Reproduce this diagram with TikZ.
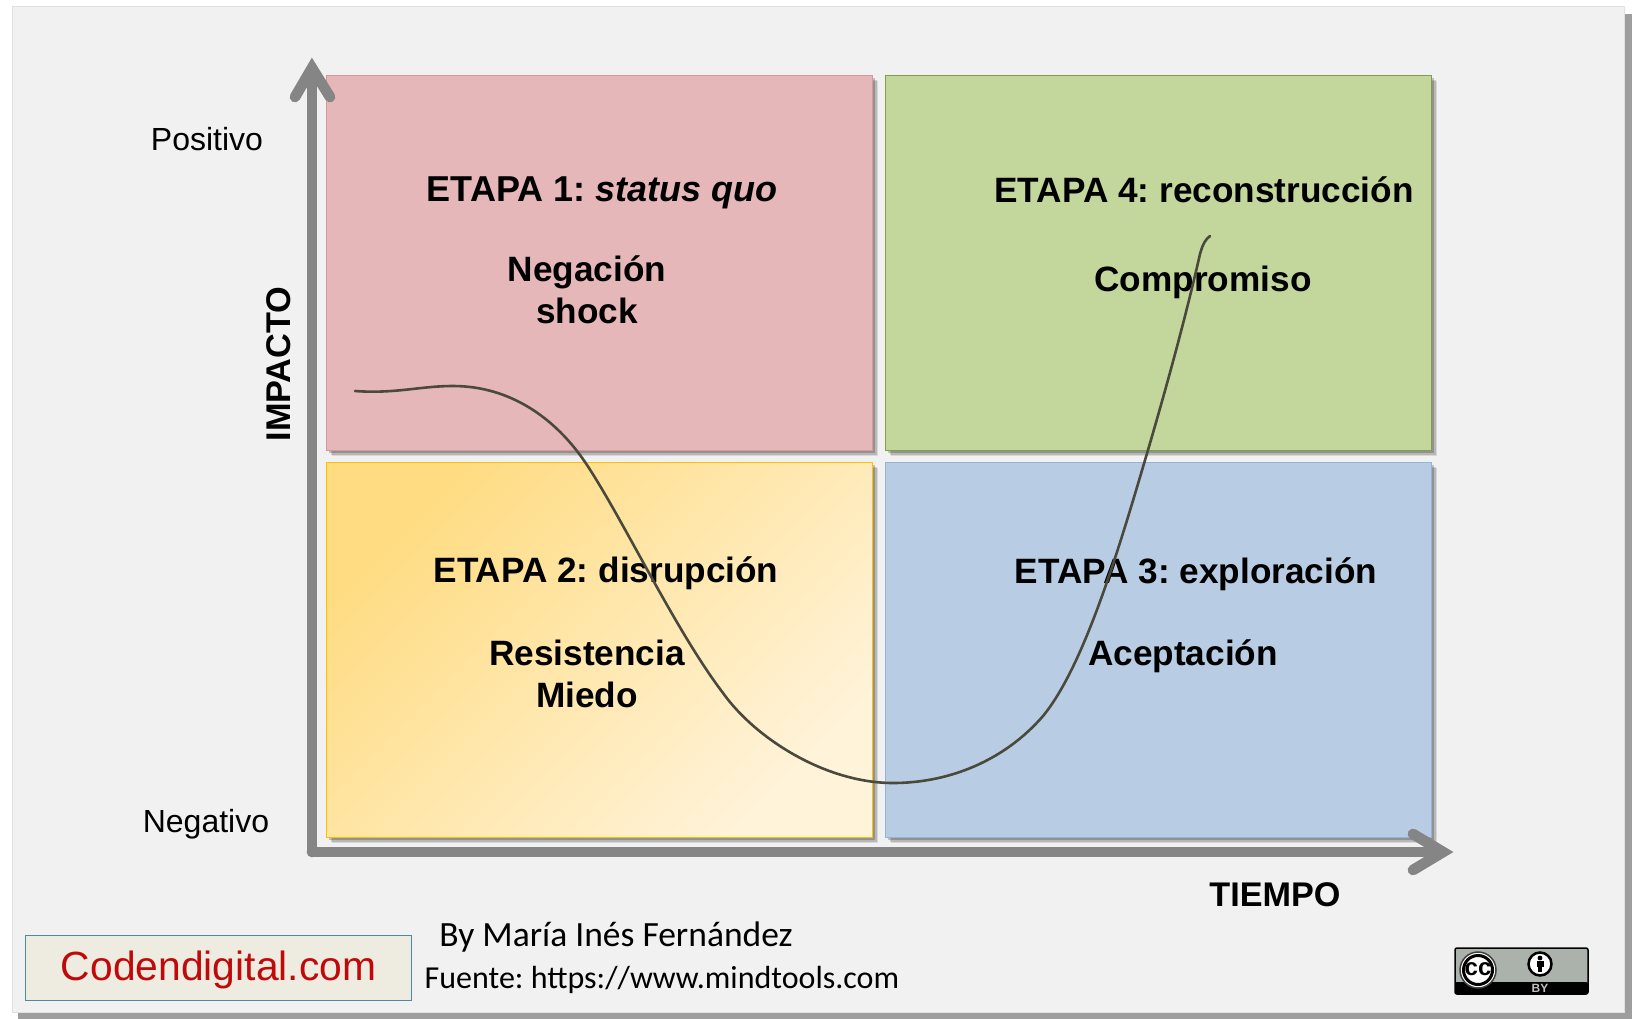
\documentclass[tikz,border=0pt]{standalone}
\usepackage{fontspec}
\setmainfont{Liberation Sans}
\newfontfamily\notefont{Carlito}
\usetikzlibrary{shadows}

\definecolor{panelgray}{HTML}{F1F1F1}
\definecolor{axisgray}{HTML}{858585}
\definecolor{curvedark}{HTML}{4A4A3C}
\definecolor{pinkfill}{HTML}{E6B7B8}
\definecolor{pinkline}{HTML}{D99694}
\definecolor{greenfill}{HTML}{C3D69B}
\definecolor{greenline}{HTML}{7F9F4A}
\definecolor{bluefill}{HTML}{B8CCE4}
\definecolor{blueline}{HTML}{95B3D7}
\definecolor{yellowline}{HTML}{FFC000}
\definecolor{yellowtop}{HTML}{FFDC82}
\definecolor{yellowend}{HTML}{FFF3DA}

\tikzset{
  softshadow/.style={
    drop shadow={shadow xshift=5.5pt, shadow yshift=-5.5pt, fill=black, opacity=.1},
    drop shadow={shadow xshift=4pt, shadow yshift=-4pt, fill=black, opacity=.15},
    drop shadow={shadow xshift=2.5pt, shadow yshift=-2.5pt, fill=black, opacity=.2}},
  stagebox/.style={draw=#1, line width=1.2pt, minimum width=546pt, minimum height=375pt,
    anchor=north west, softshadow},
  stagetext/.style={font=\fontsize{35.2}{40}\selectfont\bfseries, align=center, text=black},
  axislabel/.style={font=\fontsize{32}{36}\selectfont, text=black},
  axisline/.style={draw=axisgray, line width=10.7pt, line cap=round},
  notetext/.style={font=\notefont\fontsize{35.5}{40}\selectfont, text=black},
}

\begin{document}
\frenchspacing
\begin{tikzpicture}[x=1pt, y=-1pt]
  \useasboundingbox (0,0) rectangle (1632,1019);
  \fill[white] (0,0) rectangle (1632,1019);
  \fill[black!38] (18,1012) rectangle (1632,1019);
  \fill[black!38] (1624,14) rectangle (1632,1019);
  \draw[black!12, line width=1pt, fill=panelgray] (12,7) rectangle (1624,1012);

  % the four stages
  \node[stagebox=pinkline, fill=pinkfill] (stage1) at (326,75) {};
  \node[stagebox=greenline, fill=greenfill] (stage4) at (885,75) {};
  \node[stagebox=yellowline, top color=yellowtop, bottom color=yellowend, shading angle=45] (stage2) at (326,462) {};
  \node[stagebox=blueline, fill=bluefill] (stage3) at (885,462) {};

  \node[stagetext, font=\fontsize{36}{40}\selectfont\bfseries] (title1) at (602,193) {ETAPA 1: \textit{status quo}};
  \node[stagetext] (feel1) at (587,290) {Negación\\[2pt]shock};
  \node[stagetext] (title4) at (1204,190) {ETAPA 4: reconstrucción};
  \node[stagetext] (feel4) at (1203,282) {Compromiso};
  \node[stagetext] (title2) at (606,573) {ETAPA 2: disrupción};
  \node[stagetext] (feel2) at (587,674) {Resistencia\\[2pt]Miedo};
  \node[stagetext] (title3) at (1196,574) {ETAPA 3: exploración};
  \node[stagetext] (feel3) at (1183,656) {Aceptación};

  % axes
  \coordinate (origin) at (312,852);
  \coordinate (ytop) at (312,68);
  \coordinate (xend) at (1443,852);
  \draw[axisline] (origin) -- (ytop);
  \draw[axisline] (origin) -- (xend);
  \draw[axisline, line join=miter] (295,97) -- (ytop) -- (330,97);
  \draw[axisline, line join=miter] (1413,834) -- (xend) -- (1413,870);

  \node[axislabel] (pos) at (207,139) {Positivo};
  \node[axislabel] (neg) at (206,824) {Negativo};
  \node[stagetext, rotate=90, font=\fontsize{34.3}{38}\selectfont\bfseries] (impact) at (279,364) {IMPACTO};
  \node[stagetext, font=\fontsize{34.2}{38}\selectfont\bfseries] (time) at (1275,895) {TIEMPO};

  % the curve
  \draw[curvedark, line width=2.6pt, line cap=round]
    (355,391) .. controls (395,394) and (420,386) .. (453,386)
    .. controls (510,386) and (555,418) .. (585,462)
    .. controls (622,517) and (675,630) .. (723,693)
    .. controls (755,738) and (825,783) .. (893,783)
    .. controls (950,783) and (1005,760) .. (1043,716)
    .. controls (1085,665) and (1120,545) .. (1148,450)
    .. controls (1165,392) and (1185,320) .. (1200,254)
    .. controls (1203,243) and (1206,239) .. (1210,236);

  % footer
  \node[draw={rgb,255:red,70;green,140;blue,165}, line width=1.2pt, fill={rgb,255:red,238;green,236;blue,225},
    minimum width=386pt, minimum height=65pt, text={rgb,255:red,192;green,10;blue,10}, text depth=4pt,
    font=\fontsize{40.8}{44}\selectfont, anchor=north west] (brand) at (25,935) {Codendigital.com};
  \node[notetext] (byline) at (616,937) {By María Inés Fernández};
  \node[notetext, font=\notefont\fontsize{32}{36}\selectfont] (source) at (662,980) {Fuente: https://www.mindtools.com};

  % licence badge
  \draw[black, line width=1.5pt, rounded corners=2pt, fill={rgb,255:red,170;green,178;blue,171}] (1455,948) rectangle (1588,994);
  \fill[black, rounded corners=2pt] (1455,982) rectangle (1588,994);
  \draw[black!75, line width=1.5pt, fill=white] (1478,970) circle (18);
  \draw[black, line width=3pt, fill=white] (1478,970) circle (14.5);
  \node[font=\fontsize{24}{24}\selectfont\bfseries, inner sep=0pt] (cc) at (1478,969) {cc};
  \draw[black, line width=2.5pt, fill=white] (1540,964) circle (11.5);
  \fill[black] (1540,958) circle (2.4);
  \fill[black] (1536.5,961) rectangle (1543.5,967);
  \fill[black] (1538,967) rectangle (1542,972);
  \node[text=black!25, font=\fontsize{12}{12}\selectfont\bfseries, inner sep=0pt] (by) at (1540,988) {BY};
\end{tikzpicture}
\end{document}
